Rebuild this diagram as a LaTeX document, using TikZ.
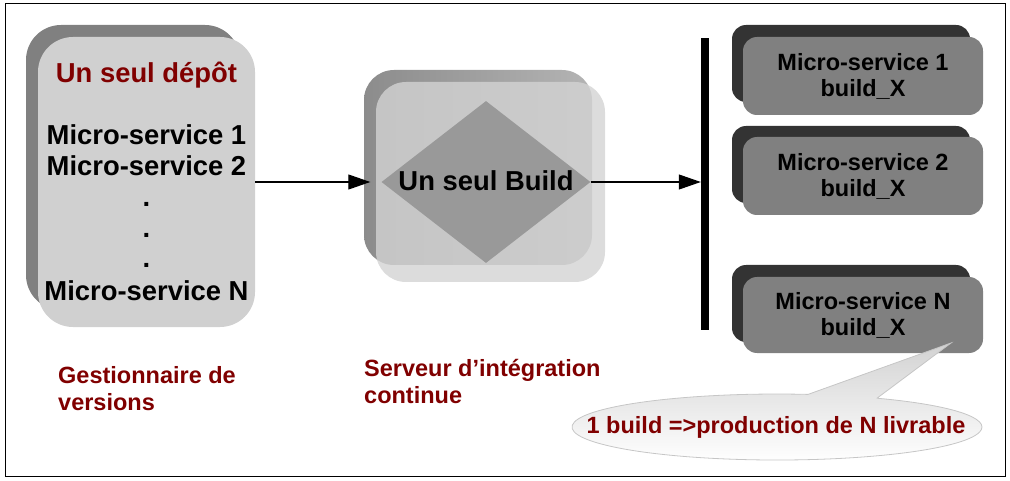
\documentclass[tikz,border=0pt]{standalone}
\usepackage{fontspec}
\setmainfont{Liberation Sans}
\usetikzlibrary{arrows.meta,shapes.geometric}
\definecolor{dred}{HTML}{800000}
\definecolor{lshadow}{HTML}{808080}
\definecolor{lfront}{HTML}{D0D0D0}
\definecolor{mshadowL}{HTML}{8C8C8C}
\definecolor{mshadowR}{HTML}{B4B4B4}
\definecolor{mfront}{HTML}{D3D3D3}
\definecolor{dia}{HTML}{999999}
\definecolor{rshadow}{HTML}{333333}
\definecolor{rfront}{HTML}{808080}
\begin{document}
\begin{tikzpicture}[x=1pt,y=1pt,
  big/.style={font=\fontsize{27.4}{31}\selectfont\bfseries, inner sep=0pt},
  small/.style={font=\fontsize{23.5}{26}\selectfont\bfseries, inner sep=0pt},
  boxshape/.style={inner sep=0pt, draw=none},
  conn/.style={line width=1.1pt, -{Triangle[length=22pt,width=15pt]}}]
\useasboundingbox (0,0) rectangle (1010,480);
\draw[line width=1pt] (5,4) rectangle (1005,476);

% left repository
\node[boxshape, fill=lshadow, rounded corners=35pt, minimum width=214pt, minimum height=285pt] (reposh) at (133,312.5) {};
\node[boxshape, fill=lfront, rounded corners=35pt, minimum width=217pt, minimum height=290pt] (repo) at (146.5,298) {};
\node[big, text=dred] (repotitle) at (146.5,405) {Un seul dépôt};
\node[big] (ms1) at (146.5,345) {Micro-service 1};
\node[big] (ms2) at (146.5,314) {Micro-service 2};
\node[big, anchor=base] (dot1) at (146.5,273) {.};
\node[big, anchor=base] (dot2) at (146.5,242) {.};
\node[big, anchor=base] (dot3) at (146.5,212) {.};
\node[big] (msn) at (146.5,189) {Micro-service N};

% middle CI server
\node[boxshape, left color=mshadowL, right color=mshadowR, rounded corners=30pt, minimum width=228pt, minimum height=195pt] (cish) at (478,312.5) {};
\node[boxshape, fill=mfront, fill opacity=0.8, rounded corners=30pt, minimum width=229pt, minimum height=200pt] (ci) at (490.5,298) {};
\node[diamond, boxshape, fill=dia, minimum width=209pt, minimum height=162pt] (build) at (486,298) {};
\node[big] (buildlbl) at (486,299) {Un seul Build};

% bar
\node[boxshape, fill=black, minimum width=8pt, minimum height=292pt] (bar) at (705,296) {};

% arrows
\draw[conn, shorten >=11pt] (repo.east) -- (build.west);
\draw[conn] (build.east) -- (bar.west |- build.east);

% right boxes
\node[boxshape, fill=rshadow, rounded corners=14pt, minimum width=238pt, minimum height=77pt] (b1sh) at (851,416.5) {};
\node[boxshape, fill=rfront, rounded corners=14pt, minimum width=240pt, minimum height=78pt, small, align=center] (b1) at (863,404) {Micro-service 1\\build\_X};
\node[boxshape, fill=rshadow, rounded corners=14pt, minimum width=238pt, minimum height=77pt] (b2sh) at (851,315.5) {};
\node[boxshape, fill=rfront, rounded corners=14pt, minimum width=240pt, minimum height=78pt, small, align=center] (b2) at (863,304) {Micro-service 2\\build\_X};
\node[boxshape, fill=rshadow, rounded corners=14pt, minimum width=238pt, minimum height=77pt] (bnsh) at (851,176.5) {};
\node[boxshape, fill=rfront, rounded corners=14pt, minimum width=240pt, minimum height=76pt, small, align=center] (bn) at (863,165) {Micro-service N\\build\_X};

% bottom labels
\node[small, text=dred, align=left, anchor=west, font=\fontsize{23.5}{27}\selectfont\bfseries] (gest) at (58,91.5) {Gestionnaire de\\versions};
\node[small, text=dred, align=left, anchor=west, font=\fontsize{23.5}{27}\selectfont\bfseries] (serv) at (364,98.5) {Serveur d’intégration\\continue};

% callout
\path[draw=gray!45, line width=0.8pt, top color=gray!35, bottom color=white]
  (877,81.8) -- (951,137) -- (808,85.6)
  arc[start angle=81.3, end angle=420.8, x radius=205, y radius=33] -- cycle;
\node[small, text=dred] (calloutlbl) at (776,53) {1 build =>production de N livrable};
\end{tikzpicture}
\end{document}
